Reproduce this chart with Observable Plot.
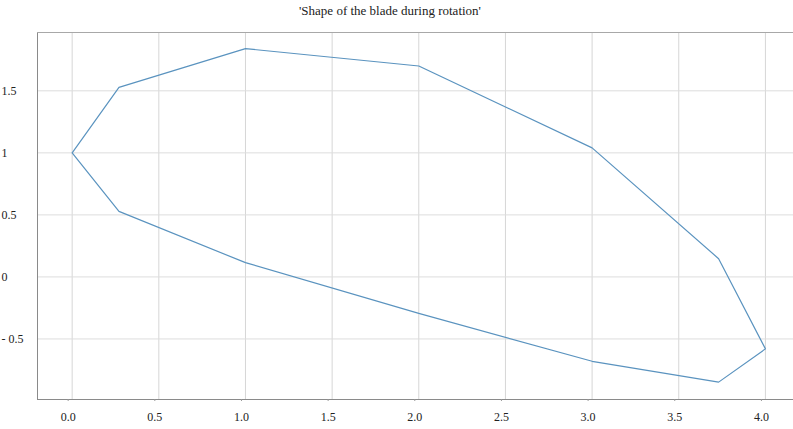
<!DOCTYPE html>
<html>
<head>
<meta charset="utf-8">
<script src="https://cdn.jsdelivr.net/npm/d3@7"></script>
<script src="https://cdn.jsdelivr.net/npm/@observablehq/plot@0.6"></script>
<style>
  body { margin: 0; background: #fff; }
  #title { width: 780px; height: 25px; text-align: center; font-family: "Liberation Serif", "Times New Roman", Times, "DejaVu Serif", serif; font-size: 13px; line-height: 22px; color: #222; }
  svg { display: block; }
</style>
</head>
<body>
<div id="title"></div>
<div id="chart"></div>
<script>
const title = "'Shape of the blade during rotation'";
const bladeX = [0, 0.27, 1.0, 2.0, 3.0, 3.73, 4.0, 3.73, 3.0, 2.0, 1.0, 0.27, 0];
const bladeY = [1.0, 1.528, 1.84, 1.70, 1.04, 0.147, -0.58, -0.848, -0.68, -0.294, 0.115, 0.528, 1.0];
const xTicks = [0, 0.5, 1, 1.5, 2, 2.5, 3, 3.5, 4];
const yTicks = [-0.5, 0, 0.5, 1, 1.5];

document.getElementById("title").textContent = title;
const points = bladeX.map((x, i) => ({x, y: bladeY[i]}));
const xDomain = [-0.2, 4.162];
const yDomain = [-0.988, 1.97];
const serif = "'Liberation Serif', 'Times New Roman', Times, 'DejaVu Serif', serif";

const chart = Plot.plot({
  width: 793,
  height: 404,
  marginLeft: 37,
  marginRight: 0,
  marginTop: 7,
  marginBottom: 30,
  style: {fontFamily: serif, fontSize: "12px", color: "#222", background: "#fff"},
  x: {domain: xDomain, ticks: xTicks, label: null},
  y: {domain: yDomain, ticks: yTicks, label: null},
  marks: [
    Plot.gridX(xTicks, {stroke: "#d6d6d6", strokeOpacity: 1}),
    Plot.gridY(yTicks, {stroke: "#dddddd", strokeOpacity: 1}),
    Plot.ruleX([xDomain[0]], {stroke: "#8a8a8a"}),
    Plot.ruleY([yDomain[0]], {stroke: "#8a8a8a"}),
    Plot.ruleY([yDomain[1]], {stroke: "#a8a8a8"}),
    Plot.axisX(xTicks, {anchor: "bottom", tickSize: 2, tickPadding: 11, dx: -4, stroke: "#999", fontFamily: serif, tickFormat: d => d.toFixed(1)}),
    Plot.axisY(yTicks, {anchor: "left", tickSize: 0, textAnchor: "start", dx: -27, fontFamily: serif,
      tickFormat: d => d < 0 ? "- " + Math.abs(d) : String(d)}),
    Plot.line(points, {x: "x", y: "y", stroke: "#5a93bf", strokeWidth: 1.2})
  ]
});
document.getElementById("chart").appendChild(chart);
</script>
</body>
</html>
